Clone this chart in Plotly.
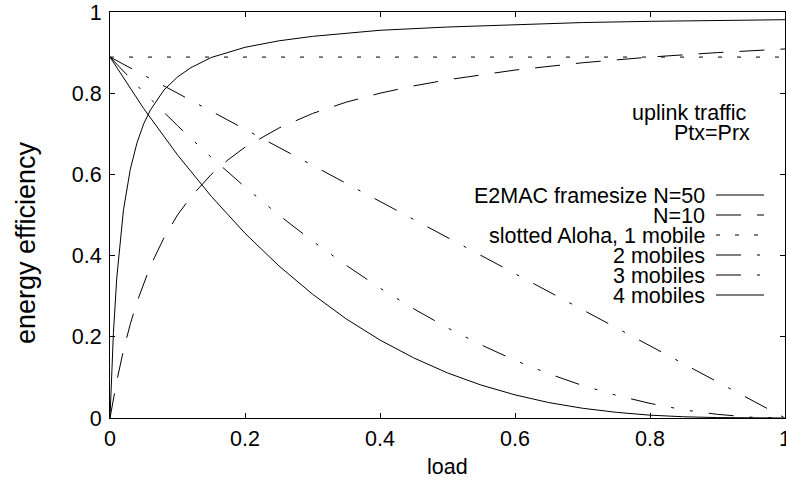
import plotly.graph_objects as go

# ---------------- data ----------------
x_e2mac50 = [0, 0.005, 0.01, 0.02, 0.03, 0.04, 0.05, 0.06, 0.08, 0.1, 0.12, 0.15,
             0.2, 0.25, 0.3, 0.4, 0.5, 0.6, 0.7, 0.8, 0.9, 1.0]
y_e2mac50 = [0, 0.208, 0.345, 0.513, 0.612, 0.678, 0.725, 0.759, 0.808, 0.840, 0.863, 0.888,
             0.913, 0.929, 0.940, 0.955, 0.963, 0.969, 0.974, 0.977, 0.979, 0.981]

x_e2mac10 = [0, 0.01, 0.02, 0.03, 0.04, 0.05, 0.06, 0.08, 0.1, 0.12, 0.15, 0.175,
             0.2, 0.25, 0.3, 0.35, 0.4, 0.45, 0.5, 0.6, 0.7, 0.8, 0.9, 1.0]
y_e2mac10 = [0, 0.091, 0.167, 0.231, 0.286, 0.333, 0.375, 0.444, 0.5, 0.545, 0.6, 0.636,
             0.667, 0.714, 0.75, 0.778, 0.8, 0.818, 0.833, 0.857, 0.875, 0.889, 0.9, 0.909]

x_aloha1 = [0, 1.0]
y_aloha1 = [0.889, 0.889]

x_aloha2 = [0, 0.1, 0.2, 0.3, 0.4, 0.5, 0.6, 0.7, 0.8, 0.9, 1.0]
y_aloha2 = [0.889, 0.800, 0.711, 0.622, 0.533, 0.445, 0.356, 0.267, 0.178, 0.089, 0.0]

x_aloha34 = [0, 0.05, 0.1, 0.15, 0.2, 0.25, 0.3, 0.35, 0.4, 0.45, 0.5,
             0.55, 0.6, 0.65, 0.7, 0.75, 0.8, 0.85, 0.9, 0.95, 1.0]
y_aloha3 = [0.889, 0.802, 0.720, 0.642, 0.569, 0.500, 0.436, 0.376, 0.320, 0.269, 0.222,
            0.180, 0.142, 0.109, 0.080, 0.056, 0.036, 0.020, 0.009, 0.002, 0.0]
y_aloha4 = [0.889, 0.762, 0.648, 0.546, 0.455, 0.375, 0.305, 0.244, 0.192, 0.148, 0.111,
            0.081, 0.057, 0.038, 0.024, 0.014, 0.007, 0.003, 0.001, 0.0, 0.0]

tick_vals = [0, 0.2, 0.4, 0.6, 0.8, 1]
tick_text = ["0", "0.2", "0.4", "0.6", "0.8", "1"]

labels = ["E2MAC framesize N=50", "N=10", "slotted Aloha, 1 mobile",
          "2 mobiles", "3 mobiles", "4 mobiles"]

# ---------------- styles ----------------
FONT = "Liberation Sans, Arial, sans-serif"
FS = 21.5
dashes = ["solid", "25px,16px", "4px,15px", "25px,16px,3px,16px",
          "25px,16px,3px,16px,3px,16px", "solid"]

series = [
    (x_e2mac50, y_e2mac50),
    (x_e2mac10, y_e2mac10),
    (x_aloha1, y_aloha1),
    (x_aloha2, y_aloha2),
    (x_aloha34, y_aloha3),
    (x_aloha34, y_aloha4),
]

W, H = 786, 482
PL, PR, PT, PB = 110, 785, 12, 418      # plot box in pixels
ML = PL
MR = W - PR
MT = PT
MB = H - PB
PW = PR - PL
PH = PB - PT


def px(xw):
    return (xw - PL) / PW


def py(yw):
    return (PB - yw) / PH


fig = go.Figure()
for (xs, ys), name, d in zip(series, labels, dashes):
    fig.add_trace(go.Scatter(x=xs, y=ys, mode="lines", name=name, showlegend=False,
                             hoverinfo="skip",
                             line=dict(color="black", width=1, dash=d)))

annotations = []
shapes = []
row_y = [195, 215, 235, 255, 275, 295]
for lab, d, ry in zip(labels, dashes, row_y):
    annotations.append(dict(xref="paper", yref="paper", x=px(707), y=py(ry + 0.5),
                            text=lab, showarrow=False, xanchor="right", yanchor="middle",
                            font=dict(family=FONT, size=FS, color="black")))
    shapes.append(dict(type="line", xref="paper", yref="paper",
                       x0=px(716), x1=px(764), y0=py(ry), y1=py(ry),
                       line=dict(color="black", width=1, dash=d)))

annotations.append(dict(xref="paper", yref="paper", x=px(749), y=py(113),
                        text="uplink traffic", showarrow=False, xanchor="right",
                        yanchor="middle", font=dict(family=FONT, size=FS, color="black")))
annotations.append(dict(xref="paper", yref="paper", x=px(752), y=py(133),
                        text="Ptx=Prx", showarrow=False, xanchor="right",
                        yanchor="middle", font=dict(family=FONT, size=FS, color="black")))
annotations.append(dict(xref="paper", yref="paper", x=px(447), y=py(467),
                        text="load", showarrow=False, xanchor="center",
                        yanchor="middle", font=dict(family=FONT, size=FS, color="black")))
annotations.append(dict(xref="paper", yref="paper", x=px(26), y=py(243),
                        text="energy efficiency", showarrow=False, textangle=-90,
                        xanchor="center", yanchor="middle",
                        font=dict(family=FONT, size=27, color="black")))

axis_common = dict(range=[0, 1], showline=True, linecolor="black", linewidth=1,
                   mirror="ticks", ticks="inside", ticklen=5, tickcolor="black",
                   tickwidth=1, showgrid=False, zeroline=False, automargin=False,
                   ticklabeloverflow="allow",
                   tickvals=tick_vals, ticktext=tick_text,
                   tickfont=dict(family=FONT, size=FS, color="black"))

fig.update_layout(
    width=W, height=H,
    margin=dict(l=ML, r=MR, t=MT, b=MB, pad=0, autoexpand=False),
    paper_bgcolor="white", plot_bgcolor="white",
    xaxis=dict(**axis_common, ticklabelstandoff=1),
    yaxis=dict(**axis_common, ticklabelstandoff=3),
    annotations=annotations, shapes=shapes,
    font=dict(family=FONT, size=FS, color="black"),
    hovermode=False,
)

# remove the default 8px page margin so the figure fills the window exactly
fig.write_html(
    "out.html",
    config={"displayModeBar": False, "staticPlot": True},
    post_script="document.body.style.margin='0';"
                "document.documentElement.style.overflow='hidden';",
)
